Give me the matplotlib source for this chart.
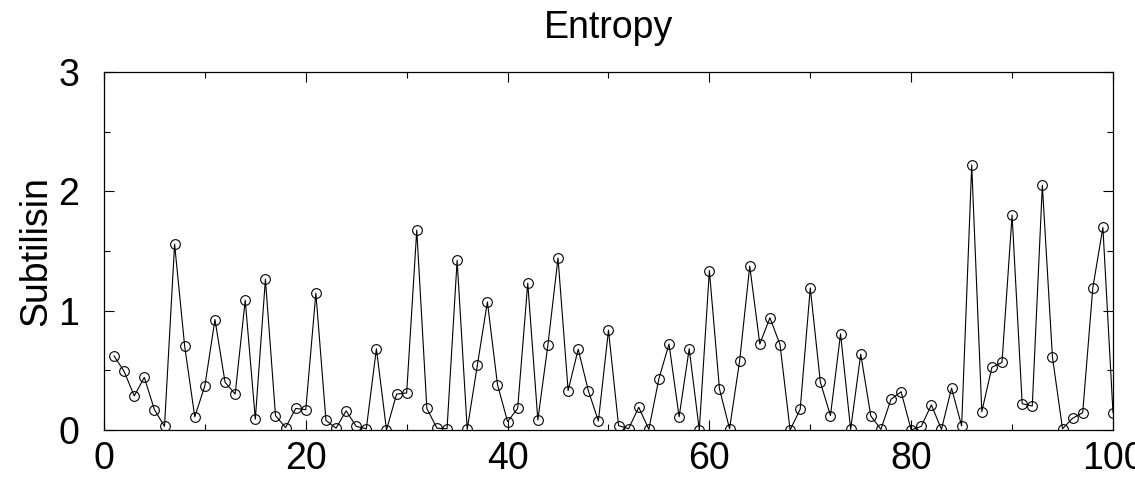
import matplotlib.pyplot as plt
from matplotlib.ticker import MultipleLocator

plt.rcParams['font.family'] = ['Liberation Sans', 'DejaVu Sans']

# per-residue entropy, residues 1..100
residue = list(range(1, 101))
entropy = [
    0.62, 0.49, 0.285, 0.44, 0.17, 0.03, 1.556, 0.70, 0.11, 0.37,
    0.925, 0.40, 0.30, 1.087, 0.09, 1.263, 0.12, 0.02, 0.18, 0.17,
    1.146, 0.08, 0.015, 0.16, 0.03, 0.01, 0.68, 0.0, 0.30, 0.31,
    1.674, 0.18, 0.015, 0.01, 1.42, 0.005, 0.54, 1.073, 0.38, 0.07,
    0.18, 1.23, 0.084, 0.715, 1.44, 0.33, 0.676, 0.33, 0.075, 0.835,
    0.036, 0.011, 0.19, 0.005, 0.43, 0.72, 0.11, 0.68, 0.0, 1.335,
    0.344, 0.01, 0.58, 1.372, 0.72, 0.94, 0.715, 0.0, 0.173, 1.19,
    0.40, 0.12, 0.805, 0.005, 0.634, 0.117, 0.005, 0.257, 0.32, 0.0,
    0.03, 0.21, 0.005, 0.35, 0.034, 2.22, 0.153, 0.525, 0.565, 1.80,
    0.22, 0.20, 2.05, 0.61, 0.01, 0.098, 0.145, 1.19, 1.696, 0.145,
]

fig = plt.figure(figsize=(11.35, 4.82), dpi=100)
ax = fig.add_axes([0.0916, 0.108, 0.889, 0.743])

ax.plot(residue, entropy, color='black', lw=0.8, marker='o', ms=7,
        mfc='none', mec='black', mew=0.8)

ax.set_xlim(0, 100)
ax.set_ylim(0, 3)
ax.xaxis.set_major_locator(MultipleLocator(20))
ax.xaxis.set_minor_locator(MultipleLocator(10))
ax.yaxis.set_major_locator(MultipleLocator(1))
ax.yaxis.set_minor_locator(MultipleLocator(0.5))
ax.tick_params(which='both', direction='in', top=True, right=True,
               labelsize=27, width=0.8)
ax.tick_params(axis='x', pad=8)
ax.tick_params(axis='y', pad=18)
ax.tick_params(which='major', length=7)
ax.tick_params(which='minor', length=4)
for s in ax.spines.values():
    s.set_linewidth(0.9)

ax.set_title('Entropy', fontsize=27, pad=24)
ax.set_ylabel('Subtilisin', fontsize=27, labelpad=3)

fig.savefig('out.png', dpi=100)
